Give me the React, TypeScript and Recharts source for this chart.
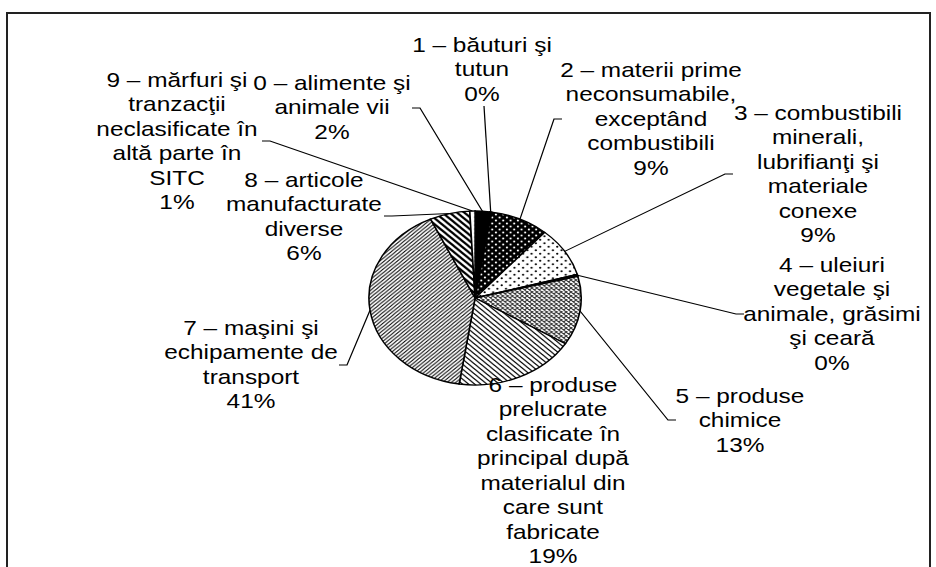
import React from 'react';
import { PieChart, Pie, Cell } from 'recharts';

// the source picture is stretched sideways, so the chart is drawn narrow and scaled back out
const S = 1.22;
const W = 936;
const H = 567;

const categories = [
  '0 – alimente şi animale vii',
  '1 – băuturi şi tutun',
  '2 – materii prime neconsumabile, exceptând combustibili',
  '3 – combustibili minerali, lubrifianţi şi materiale conexe',
  '4 – uleiuri vegetale şi animale, grăsimi şi ceară',
  '5 – produse chimice',
  '6 – produse prelucrate clasificate în principal după materialul din care sunt fabricate',
  '7 – maşini şi echipamente de transport',
  '8 – articole manufacturate diverse',
  '9 – mărfuri şi tranzacţii neclasificate în altă parte în SITC',
];
const shares = [2.2, 0.3, 8.9, 9.2, 0.4, 12.8, 18.6, 40.7, 6.1, 0.8];
const labelLines = [
  ['0 – alimente şi', 'animale vii'],
  ['1 – băuturi şi', 'tutun'],
  ['2 – materii prime', 'neconsumabile,', 'exceptând', 'combustibili'],
  ['3 – combustibili', 'minerali,', 'lubrifianţi şi', 'materiale', 'conexe'],
  ['4 – uleiuri', 'vegetale şi', 'animale, grăsimi', 'şi ceară'],
  ['5 – produse', 'chimice'],
  ['6 – produse', 'prelucrate', 'clasificate în', 'principal după', 'materialul din', 'care sunt', 'fabricate'],
  ['7 – maşini şi', 'echipamente de', 'transport'],
  ['8 – articole', 'manufacturate', 'diverse'],
  ['9 – mărfuri şi', 'tranzacţii', 'neclasificate în', 'altă parte în', 'SITC'],
];

const total = shares.reduce((a, b) => a + b, 0);
const data = categories.map((name, i) => ({ name, value: shares[i] }));

const fills = ['#000', '#000', 'url(#pDotsW)', 'url(#pDotsB)', '#000', 'url(#pCross)', 'url(#pDown)', 'url(#pUp)', 'url(#pWide)', 'url(#pLight)'];

// label layout in page pixels: centre x, first line y, leader start (ax, ay) and tick direction
const labelPos = [
  { x: 332, y: 83, ax: 412, ay: 108, dir: 1 },
  { x: 482, y: 45, ax: 484, ay: 106, dir: 0 },
  { x: 651, y: 70, ax: 562, ay: 119, dir: -1 },
  { x: 818, y: 113, ax: 733, ay: 174, dir: -1 },
  { x: 832, y: 265, ax: 744, ay: 314, dir: -1 },
  { x: 740, y: 396, ax: 676, ay: 420, dir: -1 },
  { x: 553, y: 385, ax: 0, ay: 0, dir: 9 },
  { x: 251, y: 328, ax: 339, ay: 365, dir: 1 },
  { x: 304, y: 180, ax: 384, ay: 216, dir: 1 },
  { x: 177, y: 80, ax: 262, ay: 141, dir: 1 },
];

const LINE = 24.5;
const RAD = Math.PI / 180;

const renderLabel = (props: any) => {
  const { cx, cy, midAngle, outerRadius, index } = props;
  const pos = labelPos[index];
  const lines = [...labelLines[index], Math.round((shares[index] / total) * 100) + '%'];
  const ex = cx + outerRadius * Math.cos(-midAngle * RAD);
  const ey = cy + outerRadius * Math.sin(-midAngle * RAD);
  let leader = null;
  if (pos.dir !== 9) {
    const ax = pos.ax / S;
    const tx = (pos.ax + pos.dir * 8) / S;
    leader = (
      <polyline
        points={`${ax},${pos.ay} ${tx},${pos.ay} ${ex},${ey}`}
        fill="none"
        stroke="#000"
        strokeWidth={1}
      />
    );
  }
  return (
    <g key={`lbl-${index}`}>
      {leader}
      {lines.map((t, k) => (
        <text
          key={k}
          x={pos.x / S}
          y={pos.y + k * LINE}
          textAnchor="middle"
          dominantBaseline="central"
          fontFamily="'Liberation Sans', Arial, sans-serif"
          fontSize={20}
          fill="#000"
        >
          {t}
        </text>
      ))}
    </g>
  );
};

function Patterns() {
  return (
    <svg width={0} height={0} style={{ position: 'absolute' }}>
      <defs>
        <pattern id="pDotsW" patternUnits="userSpaceOnUse" width={6} height={6}>
          <rect width={6} height={6} fill="#000" />
          <circle cx={1.5} cy={1.5} r={0.9} fill="#fff" />
          <circle cx={4.5} cy={4.5} r={0.9} fill="#fff" />
        </pattern>
        <pattern id="pDotsB" patternUnits="userSpaceOnUse" width={7} height={7}>
          <rect width={7} height={7} fill="#fff" />
          <circle cx={1.75} cy={1.75} r={0.9} fill="#000" />
          <circle cx={5.25} cy={5.25} r={0.9} fill="#000" />
        </pattern>
        <pattern id="pCross" patternUnits="userSpaceOnUse" width={4} height={4}>
          <rect width={4} height={4} fill="#fff" />
          <path d="M0,0 L4,4 M4,0 L0,4" stroke="#333" strokeWidth={0.9} />
        </pattern>
        <pattern id="pDown" patternUnits="userSpaceOnUse" width={5} height={5}>
          <rect width={5} height={5} fill="#fff" />
          <path d="M0,0 L5,5 M-1,4 L1,6 M4,-1 L6,1" stroke="#000" strokeWidth={1.1} />
        </pattern>
        <pattern id="pUp" patternUnits="userSpaceOnUse" width={3.6} height={3.6}>
          <rect width={3.6} height={3.6} fill="#fff" />
          <path d="M0,3.6 L3.6,0 M-1,1 L1,-1 M2.6,4.6 L4.6,2.6" stroke="#000" strokeWidth={0.9} />
        </pattern>
        <pattern id="pWide" patternUnits="userSpaceOnUse" width={6} height={6}>
          <rect width={6} height={6} fill="#fff" />
          <path d="M0,0 L6,6 M-1,5 L1,7 M5,-1 L7,1" stroke="#000" strokeWidth={2} />
        </pattern>
        <pattern id="pLight" patternUnits="userSpaceOnUse" width={4} height={4}>
          <rect width={4} height={4} fill="#fff" />
          <circle cx={1} cy={1} r={0.5} fill="#666" />
        </pattern>
      </defs>
    </svg>
  );
}

export default function App() {
  const cw = W / S;
  return (
    <div style={{ position: 'absolute', left: 0, top: 0, width: W, height: H, overflow: 'hidden', background: '#fff' }}>
      <Patterns />
      <div
        style={{
          position: 'absolute',
          left: 6,
          top: 12,
          width: 925,
          height: 620,
          border: '2px solid #222',
          boxSizing: 'border-box',
        }}
      />
      <div style={{ position: 'absolute', left: 0, top: 0, transform: `scaleX(${S})`, transformOrigin: '0 0' }}>
        <PieChart width={cw} height={H}>
          <Pie
            data={data}
            dataKey="value"
            nameKey="name"
            cx={469 / S}
            cy={293}
            outerRadius={87}
            startAngle={90}
            endAngle={-270}
            label={renderLabel}
            labelLine={false}
            isAnimationActive={false}
          >
            {data.map((_, i) => (
              <Cell key={i} fill={fills[i]} stroke="#000" strokeWidth={1.3} />
            ))}
          </Pie>
        </PieChart>
      </div>
    </div>
  );
}
